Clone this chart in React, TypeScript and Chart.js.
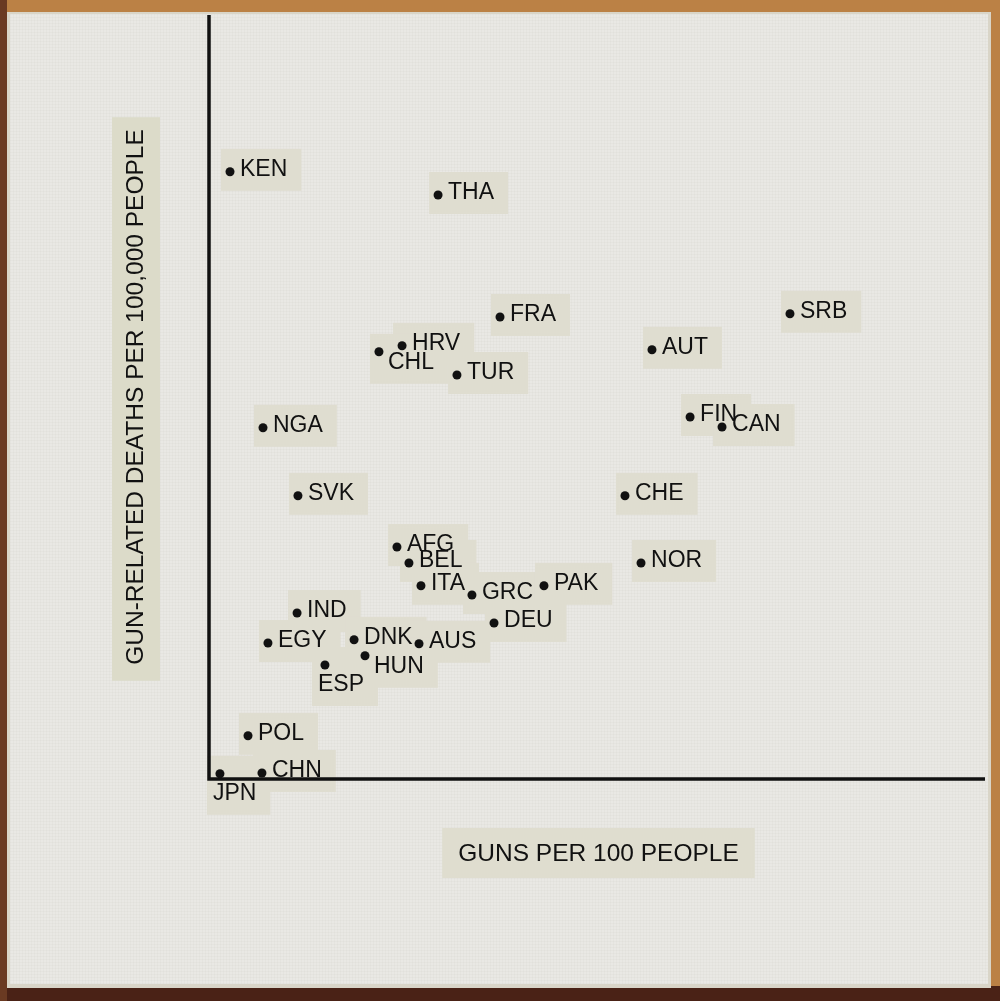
import React, { useEffect, useRef } from 'react';
import { Chart, registerables } from 'chart.js';

Chart.register(...registerables);

// Countries (ISO3 codes) as written on the artwork
const countries = ['JPN', 'CHN', 'POL', 'KEN', 'THA', 'FRA', 'HRV', 'CHL', 'TUR', 'AUT', 'SRB', 'FIN', 'CAN', 'NGA', 'SVK', 'CHE', 'NOR', 'AFG', 'BEL', 'ITA', 'GRC', 'PAK', 'DEU', 'IND', 'EGY', 'DNK', 'AUS', 'HUN', 'ESP'];
// Guns per 100 people
const gunsPer100 = [0.53, 3.33, 2.4, 1.2, 15.07, 19.2, 12.67, 11.13, 16.33, 29.33, 38.53, 31.87, 34.0, 3.4, 5.73, 27.53, 28.6, 12.33, 13.13, 13.93, 17.33, 22.13, 18.8, 5.67, 3.73, 9.47, 13.8, 10.2, 7.53];
// Gun-related deaths per 100,000 people
const deathsPer100k = [0.13, 0.15, 1.08, 15.18, 14.6, 11.55, 10.83, 10.68, 10.1, 10.73, 11.63, 9.05, 8.8, 8.78, 7.08, 7.08, 5.4, 5.8, 5.4, 4.83, 4.6, 4.83, 3.9, 4.15, 3.4, 3.48, 3.38, 3.08, 2.85];
// Which side of the dot the label sits on
const labelSide = ['below', 'right', 'right', 'right', 'right', 'right', 'right', 'belowRight', 'right', 'right', 'right', 'right', 'right', 'right', 'right', 'right', 'right', 'right', 'right', 'right', 'right', 'right', 'right', 'right', 'right', 'right', 'right', 'belowRight', 'below'];

const xTitle = 'GUNS PER 100 PEOPLE';
const yTitle = 'GUN-RELATED DEATHS PER 100,000 PEOPLE';

const LABEL_FONT = '23px "Liberation Sans", Arial, sans-serif';
const TITLE_FONT = '24.5px "Liberation Sans", Arial, sans-serif';
const STRIP = '#dfddd0';
const INK = '#111111';

function labelPos(px: number, py: number, side: string) {
  if (side === 'below') return { x: px - 7, y: py + 20 };
  if (side === 'belowRight') return { x: px + 9, y: py + 11 };
  return { x: px + 10, y: py - 2 };
}

const artPlugin = {
  id: 'art',
  beforeDraw(chart: any) {
    const { ctx, width, height } = chart;
    ctx.save();
    // cork board behind
    ctx.fillStyle = '#bb8145';
    ctx.fillRect(0, 0, width, height);
    ctx.fillStyle = '#4a2216';
    ctx.fillRect(0, 986, width, height - 986);
    ctx.fillStyle = '#6a3a22';
    ctx.fillRect(0, 0, 7, height);
    // stretched canvas
    ctx.fillStyle = '#d9d5c8';
    ctx.fillRect(7, 12, 984, 976);
    ctx.fillStyle = '#e9e8e4';
    ctx.fillRect(10, 14, 978, 970);
    // weave texture
    ctx.strokeStyle = 'rgba(120,115,100,0.03)';
    ctx.lineWidth = 1;
    ctx.beginPath();
    for (let x = 10.5; x < 988; x += 3) { ctx.moveTo(x, 14); ctx.lineTo(x, 984); }
    for (let y = 14.5; y < 984; y += 3) { ctx.moveTo(10, y); ctx.lineTo(988, y); }
    ctx.stroke();
    ctx.restore();
  },
  beforeDatasetsDraw(chart: any) {
    const { ctx, chartArea } = chart;
    const xs = chart.scales.x;
    const ys = chart.scales.y;
    ctx.save();
    ctx.font = LABEL_FONT;
    ctx.fillStyle = STRIP;
    // paper strips behind labels
    countries.forEach((c, i) => {
      const px = xs.getPixelForValue(gunsPer100[i]);
      const py = ys.getPixelForValue(deathsPer100k[i]);
      const p = labelPos(px, py, labelSide[i]);
      const w = ctx.measureText(c).width;
      const left = Math.min(px - 9, p.x - 6);
      const right = p.x + w + 14;
      const top = Math.min(py - 6, p.y - 9) - 12;
      const bottom = Math.max(py + 6, p.y + 9) + 12;
      ctx.fillRect(left, top, right - left, bottom - top);
    });
    // axis title strips
    ctx.font = TITLE_FONT;
    const cx = (chartArea.left + chartArea.right) / 2;
    const xw = ctx.measureText(xTitle).width;
    ctx.fillStyle = '#dfddcf';
    ctx.fillRect(cx - xw / 2 - 16, chartArea.bottom + 49, xw + 32, 50);
    const cy = (chartArea.top + chartArea.bottom) / 2;
    const yw = ctx.measureText(yTitle).width;
    ctx.fillStyle = '#dcdbc9';
    ctx.fillRect(chartArea.left - 100, cy - yw / 2 - 12, 48, yw + 28);
    // axis lines
    const ox = xs.getPixelForValue(0);
    const oy = ys.getPixelForValue(0);
    ctx.strokeStyle = INK;
    ctx.lineWidth = 3.5;
    ctx.lineCap = 'butt';
    ctx.beginPath();
    ctx.moveTo(ox - 3, chartArea.top);
    ctx.lineTo(ox - 3, oy);
    ctx.lineTo(chartArea.right, oy);
    ctx.stroke();
    // titles
    ctx.fillStyle = INK;
    ctx.textAlign = 'center';
    ctx.textBaseline = 'middle';
    ctx.fillText(xTitle, cx, chartArea.bottom + 75);
    ctx.translate(chartArea.left - 76, cy);
    ctx.rotate(-Math.PI / 2);
    ctx.fillText(yTitle, 0, 0);
    ctx.restore();
  },
  afterDatasetsDraw(chart: any) {
    const { ctx } = chart;
    const xs = chart.scales.x;
    const ys = chart.scales.y;
    ctx.save();
    ctx.font = LABEL_FONT;
    ctx.fillStyle = INK;
    ctx.textAlign = 'left';
    ctx.textBaseline = 'middle';
    countries.forEach((c, i) => {
      const px = xs.getPixelForValue(gunsPer100[i]);
      const py = ys.getPixelForValue(deathsPer100k[i]);
      const p = labelPos(px, py, labelSide[i]);
      ctx.fillText(c, p.x, p.y);
    });
    ctx.restore();
  },
};

export default function App() {
  const ref = useRef<HTMLCanvasElement | null>(null);
  useEffect(() => {
    if (!ref.current) return;
    const chart = new Chart(ref.current, {
      type: 'scatter',
      data: {
        datasets: [
          {
            label: 'Countries',
            data: countries.map((c, i) => ({ x: gunsPer100[i], y: deathsPer100k[i] })),
            pointRadius: 4.5,
            pointBorderWidth: 0,
            pointBackgroundColor: INK,
            pointBorderColor: INK,
            clip: false as any,
          },
        ],
      },
      options: {
        animation: false,
        responsive: false,
        devicePixelRatio: 1,
        layout: { padding: { left: 212, top: 15, right: 15, bottom: 222 } },
        scales: {
          x: { type: 'linear', display: false, min: 0, max: 51.53 },
          y: { type: 'linear', display: false, min: 0, max: 19.1 },
        },
        plugins: { legend: { display: false }, tooltip: { enabled: false }, title: { display: false } },
      },
      plugins: [artPlugin],
    });
    return () => chart.destroy();
  }, []);
  return (
    <div style={{ position: 'fixed', left: 0, top: 0, width: 1000, height: 1001 }}>
      <canvas ref={ref} width={1000} height={1001} style={{ display: 'block', width: 1000, height: 1001 }} />
    </div>
  );
}
